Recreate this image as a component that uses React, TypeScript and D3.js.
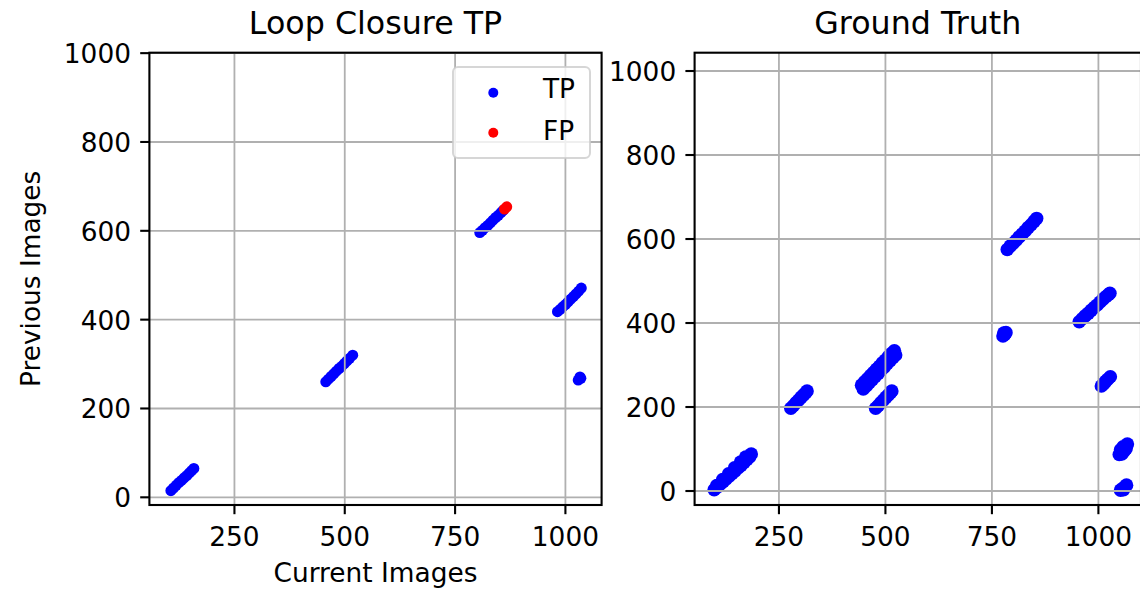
import React from "react";
import * as d3 from "d3";

// Loop closure detections: [current image, previous image]
const tpPoints: [number, number][] = [
  [106, 15], [112, 21], [118, 27], [124, 33], [130, 38], [136, 44], [142, 49], [148, 55], [153, 60], [158, 65],
  [457, 260], [463, 266], [469, 272], [475, 278], [481, 284], [487, 290], [493, 295], [499, 301], [505, 307], [511, 313], [518, 320],
  [806, 596], [812, 601], [818, 607], [824, 612], [830, 618], [836, 624], [842, 630], [848, 635], [854, 641], [859, 646],
  [982, 418], [988, 423], [994, 429], [1000, 434], [1006, 440], [1012, 446], [1018, 452], [1024, 458], [1030, 464], [1036, 471],
  [1029, 264], [1035, 268], [1033, 271],
];

const fpPoints: [number, number][] = [
  [862, 649], [867, 654],
];

const gtPoints: [number, number][] = [
  [98, 3], [105, 9], [112, 16], [119, 22], [126, 29], [133, 35], [140, 42], [147, 48], [154, 55], [161, 61], [168, 68], [175, 75], [181, 81], [185, 88],
  [104, 13], [118, 27], [132, 41], [146, 55], [160, 69], [172, 81],
  [278, 197], [284, 203], [290, 210], [296, 216], [302, 223], [308, 229], [313, 234], [316, 238],
  [448, 243], [455, 250], [462, 258], [469, 265], [476, 273], [483, 280], [490, 288], [497, 295], [504, 303], [511, 310], [518, 318], [524, 324],
  [444, 252], [451, 260], [458, 267], [465, 275], [472, 282], [479, 290], [486, 297], [493, 305], [500, 312], [507, 320], [514, 327], [521, 334],
  [477, 197], [483, 203], [489, 210], [495, 216], [501, 223], [507, 229], [512, 234], [515, 238],
  [776, 369], [780, 373], [783, 377], [778, 376],
  [955, 403], [962, 410], [969, 417], [976, 423], [983, 430], [990, 437], [997, 443], [1004, 450], [1011, 457], [1018, 463], [1024, 468], [1027, 471],
  [786, 575], [793, 583], [800, 590], [807, 597], [814, 605], [821, 612], [828, 619], [835, 627], [842, 634], [849, 642], [855, 649],
  [1007, 250], [1012, 255], [1017, 261], [1022, 266], [1028, 272],
  [1049, 87], [1054, 93], [1059, 100], [1064, 106], [1068, 112], [1055, 88], [1060, 95], [1065, 101], [1052, 98], [1058, 105],
  [1052, 2], [1057, 6], [1062, 10], [1066, 14], [1059, 3],
];

const xTickValues = [250, 500, 750, 1000];
const yTickValues = [0, 200, 400, 600, 800, 1000];
const legendLabels = ["TP", "FP"];
const seriesColors = ["#0000ff", "#ff0000"];

const FONT = "'DejaVu Sans', sans-serif";
const TICK = 9.2;
const PAD = 9.2;

type Scale = d3.ScaleLinear<number, number>;

function Axes(props: {
  id: string;
  x: Scale;
  y: Scale;
  title: string;
  xLabel?: string;
  yLabel?: string;
  children?: React.ReactNode;
  overlay?: React.ReactNode;
}) {
  const { id, x, y, title, xLabel, yLabel, children, overlay } = props;
  const [x0, x1] = x.range();
  const [y0, y1] = y.range(); // y0 bottom, y1 top
  const cx = (x0 + x1) / 2;
  const cy = (y0 + y1) / 2;
  return (
    <g>
      <defs>
        <clipPath id={id}>
          <rect x={x0} y={y1} width={x1 - x0} height={y0 - y1} />
        </clipPath>
      </defs>
      <rect x={x0} y={y1} width={x1 - x0} height={y0 - y1} fill="#ffffff" />
      <g clipPath={`url(#${id})`}>{children}</g>
      <g clipPath={`url(#${id})`}>
        {xTickValues.map((v) => (
          <line key={"gx" + v} x1={x(v)} x2={x(v)} y1={y0} y2={y1} stroke="#b0b0b0" strokeWidth={1.8} />
        ))}
        {yTickValues.map((v) => (
          <line key={"gy" + v} x1={x0} x2={x1} y1={y(v)} y2={y(v)} stroke="#b0b0b0" strokeWidth={1.8} />
        ))}
      </g>
      {overlay}
      <rect x={x0} y={y1} width={x1 - x0} height={y0 - y1} fill="none" stroke="#000000" strokeWidth={2.1} />
      {xTickValues.map((v) => (
        <g key={"tx" + v}>
          <line x1={x(v)} x2={x(v)} y1={y0} y2={y0 + TICK} stroke="#000000" strokeWidth={2.1} />
          <text x={x(v)} y={y0 + 40.5} textAnchor="middle" fontFamily={FONT} fontSize={26.4} fill="#000000">
            {v}
          </text>
        </g>
      ))}
      {yTickValues.map((v) => (
        <g key={"ty" + v}>
          <line x1={x0} x2={x0 - TICK} y1={y(v)} y2={y(v)} stroke="#000000" strokeWidth={2.1} />
          <text x={x0 - TICK - PAD} y={y(v) + 10} textAnchor="end" fontFamily={FONT} fontSize={26.4} fill="#000000">
            {v}
          </text>
        </g>
      ))}
      <text x={cx} y={33.5} textAnchor="middle" fontFamily={FONT} fontSize={31.7} fill="#000000">
        {title}
      </text>
      {xLabel && (
        <text x={cx} y={582} textAnchor="middle" fontFamily={FONT} fontSize={26.4} fill="#000000">
          {xLabel}
        </text>
      )}
      {yLabel && (
        <text
          transform={`translate(40,${cy}) rotate(-90)`}
          textAnchor="middle"
          fontFamily={FONT}
          fontSize={26.4}
          fill="#000000"
        >
          {yLabel}
        </text>
      )}
    </g>
  );
}

export default function App() {
  const xL = d3.scaleLinear().domain([57.3, 1082]).range([149.4, 601.6]);
  const yL = d3.scaleLinear().domain([-17.3, 1001]).range([505, 52.7]);
  const xR = d3.scaleLinear().domain([52, 1100]).range([694.6, 1141]);
  const yR = d3.scaleLinear().domain([-33.3, 1043.6]).range([505, 52.7]);

  const legend = (
    <g>
      <rect x={453} y={67} width={137} height={91} rx={5} fill="#ffffff" fillOpacity={0.8} stroke="#cccccc" strokeOpacity={0.8} strokeWidth={2} />
      {legendLabels.map((lab, i) => (
        <g key={lab}>
          <circle cx={493.3} cy={92.7 + i * 40} r={5} fill={seriesColors[i]} />
          <text x={543} y={97.5 + i * 42} fontFamily={FONT} fontSize={26.4} fill="#000000">
            {lab}
          </text>
        </g>
      ))}
    </g>
  );

  return (
    <svg width={1140} height={593} style={{ position: "absolute", left: 0, top: 0, background: "#ffffff" }}>
      <rect x={0} y={0} width={1140} height={593} fill="#ffffff" />
      <Axes id="clipL" x={xL} y={yL} title="Loop Closure TP" xLabel="Current Images" yLabel="Previous Images" overlay={legend}>
        {tpPoints.map((p, i) => (
          <circle key={"tp" + i} cx={xL(p[0])} cy={yL(p[1])} r={5.5} fill={seriesColors[0]} />
        ))}
        {fpPoints.map((p, i) => (
          <circle key={"fp" + i} cx={xL(p[0])} cy={yL(p[1])} r={5.5} fill={seriesColors[1]} />
        ))}
      </Axes>
      <Axes id="clipR" x={xR} y={yR} title="Ground Truth">
        {gtPoints.map((p, i) => (
          <circle key={"gt" + i} cx={xR(p[0])} cy={yR(p[1])} r={6.8} fill={seriesColors[0]} />
        ))}
      </Axes>
    </svg>
  );
}
